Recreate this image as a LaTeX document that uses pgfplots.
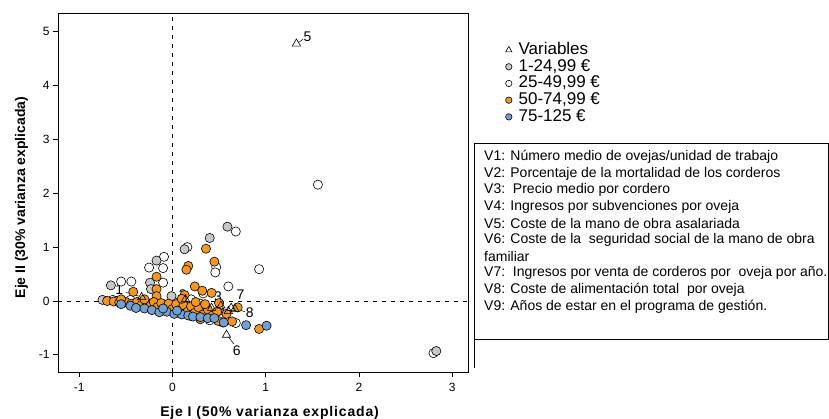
\documentclass[border=0pt]{standalone}
\usepackage{pgfplots}
\pgfplotsset{compat=1.18}
\usepackage{fontspec}
\setmainfont{Liberation Sans}

\definecolor{grp1}{RGB}{200,200,200}
\definecolor{grp3}{RGB}{245,150,30}
\definecolor{grp4}{RGB}{115,160,210}

\begin{document}
\begin{tikzpicture}[x=1pt,y=1pt]
\useasboundingbox (0,0) rectangle (829,418);
\begin{axis}[
  at={(58pt,46pt)}, anchor=south west,
  scale only axis, width=410pt, height=359pt,
  xmin=-1.227, xmax=3.17, ymin=-1.32, ymax=5.35,
  axis line style={line width=0.8pt},
  xtick={-1,0,1,2,3}, xticklabels={-1,0,1,2,3},
  ytick={-1,0,1,2,3,4,5}, yticklabels={-1,0,1,2,3,4,5},
  tick align=outside, tick pos=left,
  major tick length=5pt,
  tick style={line width=0.8pt, black},
  ticklabel style={font=\fontsize{12}{14}\selectfont},
  xticklabel style={yshift=-3pt},
  xlabel={\textbf{Eje I (50\% varianza explicada)}},
  ylabel={\textbf{Eje II (30\% varianza explicada)}},
  xlabel style={font=\fontsize{14}{16}\selectfont\addfontfeatures{LetterSpace=6},
    xshift=7pt, yshift=-7pt},
  ylabel style={font=\fontsize{14}{16}\selectfont, xshift=-5pt, yshift=4pt},
  clip=false,
  legend style={at={(1.0878,0.919)}, anchor=north west, draw=none, fill=none,
    font=\fontsize{17}{19}\selectfont, row sep=0.7pt, inner sep=0pt, outer sep=0pt,
    nodes={inner sep=0pt, text height=12.5pt, text depth=3.5pt}, cells={anchor=west}},
  legend image code/.code={\path (0pt,0pt) (14pt,0pt);\draw[#1] plot coordinates {(4.5pt,0pt)};},
]
% legend entries
\addlegendimage{only marks, mark=triangle, mark size=3.6pt, black, line width=0.6pt}
\addlegendentry{Variables}
\addlegendimage{only marks, mark=*, mark size=3.2pt, draw=black, fill=grp1, line width=0.6pt}
\addlegendentry{1-24,99 €}
\addlegendimage{only marks, mark=*, mark size=3.2pt, draw=black, fill=white, line width=0.6pt}
\addlegendentry{25-49,99 €}
\addlegendimage{only marks, mark=*, mark size=3.2pt, draw=black, fill=grp3, line width=0.6pt}
\addlegendentry{50-74,99 €}
\addlegendimage{only marks, mark=*, mark size=3.2pt, draw=black, fill=grp4, line width=0.6pt}
\addlegendentry{75-125 €}

% reference lines through the origin
\addplot[forget plot, black, line width=0.7pt, dash pattern=on 4pt off 5pt] coordinates {(-1.227,0) (3.17,0)};
\addplot[forget plot, black, line width=0.7pt, dash pattern=on 4pt off 5pt] coordinates {(0,-1.32) (0,5.35)};

% 25-49,99 EUR
\addplot[forget plot, only marks, mark=*, mark size=4.6pt, draw=black, fill=white, line width=0.6pt] table {
1.56 2.16
2.80 -0.97
0.68 1.29
0.16 1.00
-0.09 0.82
0.47 0.63
0.46 0.53
-0.25 0.62
-0.10 0.61
0.93 0.59
-0.55 0.36
-0.44 0.36
-0.16 0.35
-0.10 0.34
0.33 0.14
0.60 0.27
-0.64 0.02
-0.56 0.00
0.68 -0.41
0.02 -0.02
0.30 -0.05
-0.45 0.02
0.20 0.03
-0.33 -0.04
0.40 -0.36
};
% 1-24,99 EUR
\addplot[forget plot, only marks, mark=*, mark size=4.6pt, draw=black, fill=grp1, line width=0.6pt] table {
-0.75 0.02
-0.66 0.29
-0.24 0.34
-0.17 0.75
0.13 0.96
0.40 1.17
0.59 1.38
-0.01 0.09
2.83 -0.93
-0.60 0.00
-0.23 0.22
-0.52 -0.02
};
% 50-74,99 EUR
\addplot[forget plot, only marks, mark=*, mark size=4.6pt, draw=black, fill=grp3, line width=0.6pt] table {
0.36 0.97
0.45 0.73
0.17 0.65
0.15 0.58
-0.17 0.45
-0.42 0.17
-0.17 0.22
-0.17 0.09
0.24 0.27
0.32 0.19
0.42 0.15
0.13 0.11
0.50 -0.04
0.70 -0.12
0.93 -0.52
0.64 -0.38
0.54 -0.40
0.49 -0.37
0.20 -0.28
0.30 -0.34
-0.70 0.00
-0.63 -0.01
-0.57 -0.03
-0.50 -0.02
-0.44 -0.05
-0.38 -0.02
-0.33 -0.07
-0.28 -0.03
-0.24 -0.09
-0.20 -0.02
-0.16 -0.11
-0.12 -0.04
-0.08 -0.13
-0.04 -0.05
0.00 -0.15
0.04 -0.06
0.08 -0.17
0.12 -0.08
0.16 -0.20
0.20 -0.10
0.24 -0.22
0.28 -0.12
0.33 -0.25
0.38 -0.16
0.43 -0.27
0.48 -0.20
0.58 -0.24
0.10 0.04
-0.30 0.03
0.25 -0.02
-0.55 0.03
0.35 -0.06
};
% 75-125 EUR
\addplot[forget plot, only marks, mark=*, mark size=4.6pt, draw=black, fill=grp4, line width=0.6pt] table {
-0.55 -0.06
-0.45 -0.09
-0.39 -0.13
-0.30 -0.14
-0.22 -0.17
-0.14 -0.21
-0.06 -0.20
0.02 -0.24
0.10 -0.25
0.17 -0.27
0.22 -0.29
0.30 -0.30
0.38 -0.32
0.45 -0.32
0.55 -0.40
0.79 -0.45
1.01 -0.46
0.05 -0.18
-0.10 -0.14
};
% variables
\addplot[forget plot, only marks, mark=triangle, mark size=4.8pt, black, line width=0.6pt] table {
-0.33 0.07
0.14 0.03
0.52 -0.09
0.60 -0.19
1.33 4.78
0.58 -0.63
0.63 -0.13
0.67 -0.15
0.42 -0.13
};
% variable labels
\begin{scope}[font=\fontsize{14}{16}\selectfont, inner sep=1pt]
\node at (axis cs:-0.57,0.21) {1};
\draw[line width=0.5pt] (axis cs:-0.50,0.16) -- (axis cs:-0.36,0.09);
\node at (axis cs:0.11,0.11) {2};
\node at (axis cs:0.49,0.08) {3};
\node at (axis cs:0.53,-0.21) {4};
\node at (axis cs:1.45,4.91) {5};
\draw[line width=0.5pt] (axis cs:1.35,4.80) -- (axis cs:1.40,4.86);
\node at (axis cs:0.69,-0.93) {6};
\draw[line width=0.5pt] (axis cs:0.60,-0.67) -- (axis cs:0.66,-0.80);
\node at (axis cs:0.73,0.11) {7};
\node at (axis cs:0.83,-0.21) {8};
\draw[line width=0.5pt] (axis cs:0.70,-0.16) -- (axis cs:0.78,-0.20);
\node at (axis cs:0.32,-0.12) {9};
\draw[line width=0.5pt] (axis cs:0.36,-0.13) -- (axis cs:0.40,-0.13);
\end{scope}
\end{axis}

% description of the variables
\draw[line width=0.8pt] (474,50) -- (474,275) -- (828.6,275) -- (828.6,79) -- (474,79);
\begin{scope}[font=\fontsize{14}{16}\selectfont, inner sep=0pt]
\node[anchor=west] at (484,261) {V1: Número medio de ovejas/unidad de trabajo};
\node[anchor=west] at (484,244.4) {V2: Porcentaje de la mortalidad de los corderos};
\node[anchor=west] at (484,227.8) {V3:\ \ Precio medio por cordero};
\node[anchor=west] at (484,211.2) {V4: Ingresos por subvenciones por oveja};
\node[anchor=west] at (484,194.6) {V5: Coste de la mano de obra asalariada};
\node[anchor=west] at (484,178) {V6: Coste de la\ \ seguridad social de la mano de obra};
\node[anchor=west] at (484,161.4) {familiar};
\node[anchor=west] at (484,144.8) {V7:\ \ Ingresos por venta de corderos por\ \ oveja por año.};
\node[anchor=west] at (484,128.2) {V8: Coste de alimentación total\ \ por oveja};
\node[anchor=west] at (484,111.6) {V9: Años de estar en el programa de gestión.};
\end{scope}
\end{tikzpicture}
\end{document}
